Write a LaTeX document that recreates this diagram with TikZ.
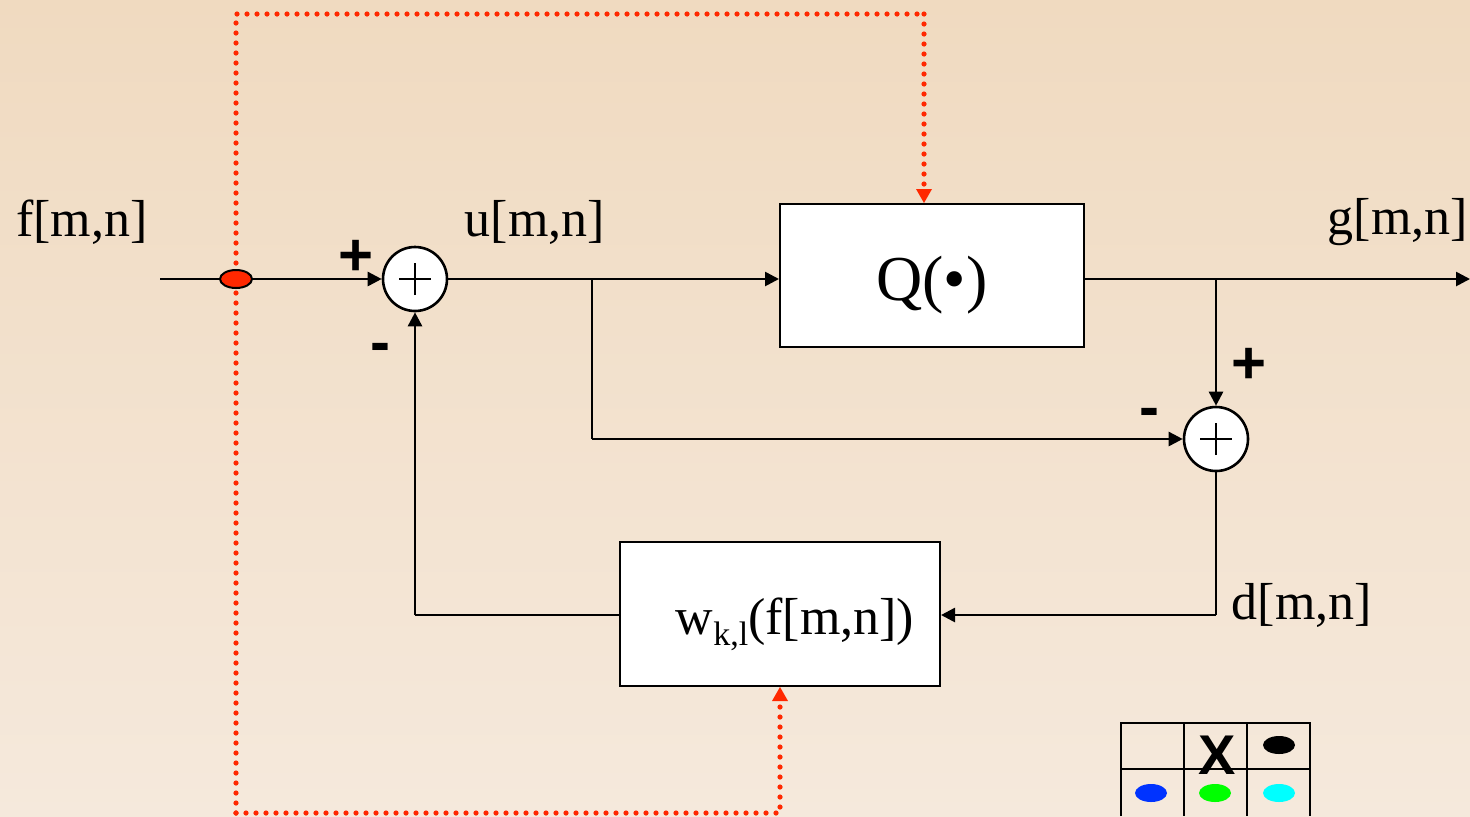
\documentclass[tikz,border=0pt]{standalone}
\usepackage{fontspec}
\setmainfont{Liberation Serif}
\setsansfont{Liberation Sans}
\usetikzlibrary{arrows.meta,shapes.geometric}
\definecolor{bgtop}{RGB}{240,218,192}
\definecolor{bgbot}{RGB}{245,233,220}
\definecolor{dotred}{RGB}{255,40,0}
\definecolor{tblue}{RGB}{0,51,255}
\definecolor{tgreen}{RGB}{0,255,0}
\definecolor{tcyan}{RGB}{0,255,255}
\begin{document}
\begin{tikzpicture}[x=0.5pt,y=-0.5pt,
  wire/.style={line width=1.3pt,black},
  arr/.style={wire,-{Triangle[length=7pt,width=7pt]}},
  redarr/.style={dotred,line width=2.6pt,line cap=round,dash pattern=on 0pt off 5pt,-{Triangle[length=7pt,width=8pt,line width=0pt]}},
  reddot/.style={dotred,line width=2.6pt,line cap=round,dash pattern=on 0pt off 5pt},
  blockbox/.style={draw,line width=1pt,fill=white,inner sep=0pt},
  sumnode/.style={circle,draw,line width=1.3pt,fill=white,minimum size=32pt,inner sep=0pt},
  lbl/.style={font=\fontsize{26}{30}\selectfont,inner sep=0pt},
  sgn/.style={font=\sffamily\bfseries\fontsize{30}{34}\selectfont,inner sep=0pt},
  dotmark/.style={ellipse,minimum width=16pt,minimum height=9pt,inner sep=0pt}
]
\shade[top color=bgtop,bottom color=bgbot] (0,0) rectangle (1470,816);
\useasboundingbox (0,0) rectangle (1470,816);

% blocks
\node[blockbox,minimum width=152pt,minimum height=71.5pt] (Q) at (932,275.5) {};
\node[lbl,font=\fontsize{32}{36}\selectfont] (Qt) at (932,285) {Q(\textbullet)};
\node[blockbox,minimum width=160pt,minimum height=72pt] (W) at (780,614) {};
\node[lbl] (Wt) at (795,624) {w\raisebox{-0.45ex}{\fontsize{17}{20}\selectfont k,l}(f[m,n])};

% summing junctions
\node[sumnode] (S1) at (415,279) {};
\node[sumnode] (S2) at (1216,439) {};
\foreach \s in {S1,S2}{
  \draw[line width=1pt] ([xshift=-8pt]\s.center) -- ([xshift=8pt]\s.center);
  \draw[line width=1pt] ([yshift=-8pt]\s.center) -- ([yshift=8pt]\s.center);
}

% coordinates
\coordinate (in) at (160,279);
\coordinate (out) at (1470,279);
\coordinate (bu) at (592,279);
\coordinate (bu2) at (592,439);
\coordinate (bg) at (1216,279);
\coordinate (bd) at (1216,615);
\coordinate (bf) at (415,615);
\coordinate (rtop) at (236,14);
\coordinate (rtopr) at (924,14);
\coordinate (rbot) at (236,813);
\coordinate (rbotr) at (780,813);

% red dotted control lines
\draw[reddot] (rbot) -- (rtop) -- (rtopr);
\draw[redarr] (rtopr) -- (Q.north -| rtopr);
\draw[redarr] (rbot) -- (rbotr) -- (W.south);

% signal wires
\draw[arr] (in) -- (S1.west);
\node[dotmark,draw,line width=1pt,fill=dotred] (J) at (236,279) {};
\draw[arr] (S1.east) -- (S1.east -| Q.west);
\draw[wire] (bu) -- (bu2);
\draw[arr] (bu2) -- (S2.west);
\draw[arr] (Q.east |- out) -- (out);
\draw[arr] (bg) -- (S2.north);
\draw[wire] (S2.south) -- (bd);
\draw[arr] (bd) -- (bd -| W.east);
\draw[wire] (bf -| W.west) -- (bf);
\draw[arr] (bf) -- (S1.south);

% labels
\node[lbl] (lf) at (82,222) {f[m,n]};
\node[lbl] (lu) at (535,222) {u[m,n]};
\node[lbl] (lg) at (1398,222) {g[m,n]};
\node[lbl] (ld) at (1302,605) {d[m,n]};
\node[sgn] (p1) at (356,258) {+};
\node[sgn] (m1) at (380,353) {-};
\node[sgn] (p2) at (1249,366) {+};
\node[sgn] (m2) at (1149,418) {-};

% legend table
\draw[line width=1.3pt] (1121,816) -- (1121,723) -- (1310,723) -- (1310,816);
\draw[line width=1.3pt] (1121,769) -- (1310,769);
\draw[line width=1.3pt] (1184,723) -- (1184,816);
\draw[line width=1.3pt] (1247,723) -- (1247,816);
\node[font=\sffamily\bfseries\fontsize{28}{32}\selectfont,inner sep=0pt] (X) at (1217,755) {X};
\node[dotmark,fill=black] (e1) at (1279,745) {};
\node[dotmark,fill=tblue] (e2) at (1151,793) {};
\node[dotmark,fill=tgreen] (e3) at (1215,793) {};
\node[dotmark,fill=tcyan] (e4) at (1279,793) {};
\end{tikzpicture}
\end{document}
